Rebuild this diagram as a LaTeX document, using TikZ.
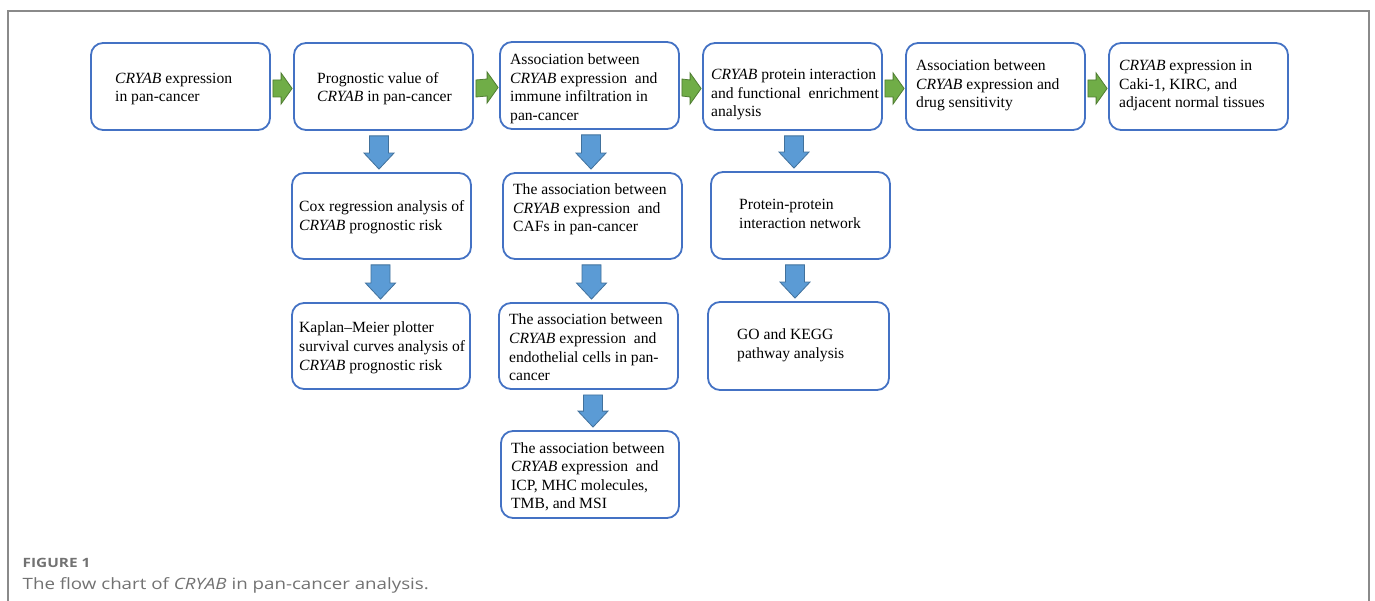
\documentclass[tikz,border=0pt]{standalone}
\usepackage{fontspec}
\setmainfont{Liberation Serif}
\newfontfamily\capfont[FakeStretch=1.2]{Open Sans}
\usetikzlibrary{calc}
\definecolor{boxblue}{HTML}{4472C4}
\definecolor{gfill}{HTML}{70AD47}
\definecolor{gline}{HTML}{507E32}
\definecolor{bfill}{HTML}{5B9BD5}
\definecolor{bline}{HTML}{41719C}
\definecolor{framegray}{HTML}{8A8A8A}
\definecolor{capgray}{HTML}{727272}
\tikzset{
  flowbox/.style={draw=boxblue, line width=1.8pt, rounded corners=12pt, fill=white, inner sep=0pt},
  boxtext/.style={anchor=base west, inner sep=0pt, font=\fontsize{15.6}{18.5}\selectfont},
  garrow/.style={fill=gfill, draw=gline, line width=0.8pt, line join=miter},
  barrow/.style={fill=bfill, draw=bline, line width=0.8pt, line join=miter},
  framestyle/.style={draw=framegray, line width=1.3pt},
  captext/.style={anchor=base west, inner sep=0pt, text=capgray},
}
\newcommand\downarr[3]{%
  \coordinate (S) at ($(#1.south -| #3)+(0,5)$);
  \coordinate (T) at ($(#2.north -| #3)+(0,-3)$);
  \coordinate (H) at ($(T)+(0,-16)$);
  \draw[barrow] ($(S)+(-9.5,0)$) -- ($(H)+(-9.5,0)$) -- ($(H)+(-15,0)$) -- (T)
     -- ($(H)+(15,0)$) -- ($(H)+(9.5,0)$) -- ($(S)+(9.5,0)$) -- cycle;}
\newcommand\rightarr[2]{%
  \coordinate (S) at ($(#1.east)+(2,2)$);
  \coordinate (T) at ($(#2.west)+(-1,2)$);
  \coordinate (H) at ($(T)+(-11,0)$);
  \draw[garrow] ($(S)+(0,-8.5)$) -- ($(H)+(0,-8.5)$) -- ($(H)+(0,-15.5)$) -- (T)
     -- ($(H)+(0,15.5)$) -- ($(H)+(0,8.5)$) -- ($(S)+(0,8.5)$) -- cycle;}
\newcommand\lines[1]{\begin{tabular}[t]{@{}l@{}}#1\end{tabular}}
\begin{document}
\begin{tikzpicture}[x=1pt,y=-1pt]
\useasboundingbox (0,0) rectangle (1375,601);
\fill[white] (0,0) rectangle (1375,601);
% frame
\coordinate (f1) at (8,601);
\coordinate (f2) at (8,11);
\coordinate (f3) at (1369,11);
\coordinate (f4) at (1369,601);
\draw[framestyle] (f1) -- (f2) -- (f3) -- (f4);
% top row boxes
\node[flowbox, minimum width=179pt, minimum height=87pt] (b1) at (180.5,86.5) {};
\node[flowbox, minimum width=179pt, minimum height=87pt] (b2) at (383.5,86.5) {};
\node[flowbox, minimum width=179pt, minimum height=87pt] (b3) at (589.5,85.5) {};
\node[flowbox, minimum width=179pt, minimum height=87pt] (b4) at (792.5,86.5) {};
\node[flowbox, minimum width=179pt, minimum height=87pt] (b5) at (995.5,86.5) {};
\node[flowbox, minimum width=179pt, minimum height=87pt] (b6) at (1198.5,86.5) {};
% lower boxes
\node[flowbox, minimum width=179pt, minimum height=86pt] (c1) at (381.5,216) {};
\node[flowbox, minimum width=178pt, minimum height=86pt] (c2) at (381,346) {};
\node[flowbox, minimum width=179pt, minimum height=86pt] (d1) at (592.5,216) {};
\node[flowbox, minimum width=179pt, minimum height=86pt] (d2) at (588.5,346) {};
\node[flowbox, minimum width=178pt, minimum height=87pt] (d3) at (590,474.5) {};
\node[flowbox, minimum width=179pt, minimum height=87pt] (e1) at (800.5,215.5) {};
\node[flowbox, minimum width=181pt, minimum height=88pt] (e2) at (798.5,346) {};
% texts
\node[boxtext] (t1) at (115,83.5) {\lines{\textit{CRYAB} expression\\in pan-cancer}};
\node[boxtext] (t2) at (317,83.5) {\lines{Prognostic value of\\\textit{CRYAB} in pan-cancer}};
\node[boxtext] (t3) at (510,65) {\lines{Association between\\\textit{CRYAB} expression\ \ and\\immune infiltration in\\pan-cancer}};
\node[boxtext] (t4) at (711,80) {\lines{\textit{CRYAB} protein interaction\\and functional\ \ enrichment\\analysis}};
\node[boxtext] (t5) at (916,71) {\lines{Association between\\\textit{CRYAB} expression and\\drug sensitivity}};
\node[boxtext] (t6) at (1119,71) {\lines{\textit{CRYAB} expression in\\Caki-1, KIRC, and\\adjacent normal tissues}};
\node[boxtext] (tc1) at (299,212) {\lines{Cox regression analysis of\\\textit{CRYAB} prognostic risk}};
\node[boxtext] (tc2) at (299,333) {\lines{Kaplan--Meier plotter\\survival curves analysis of\\\textit{CRYAB} prognostic risk}};
\node[boxtext] (td1) at (513,195) {\lines{The association between\\\textit{CRYAB} expression\ \ and\\CAFs in pan-cancer}};
\node[boxtext] (td2) at (509,325) {\lines{The association between\\\textit{CRYAB} expression\ \ and\\endothelial cells in pan-\\cancer}};
\node[boxtext] (td3) at (511,453) {\lines{The association between\\\textit{CRYAB} expression\ \ and\\ICP, MHC molecules,\\TMB, and MSI}};
\node[boxtext] (te1) at (739,210) {\lines{Protein-protein\\interaction network}};
\node[boxtext] (te2) at (737,340) {\lines{GO and KEGG\\pathway analysis}};
% green arrows
\rightarr{b1}{b2}
\rightarr{b2}{b3}
\rightarr{b3}{b4}
\rightarr{b4}{b5}
\rightarr{b5}{b6}
% blue arrows
\coordinate (a1) at (379,0);
\coordinate (a2) at (380.5,0);
\coordinate (a3) at (591,0);
\coordinate (a4) at (591.5,0);
\coordinate (a5) at (593,0);
\coordinate (a6) at (794,0);
\coordinate (a7) at (795,0);
\downarr{b2}{c1}{a1}
\downarr{c1}{c2}{a2}
\downarr{b3}{d1}{a3}
\downarr{d1}{d2}{a4}
\downarr{d2}{d3}{a5}
\downarr{b4}{e1}{a6}
\downarr{e1}{e2}{a7}
% caption
\node[captext, font=\capfont\bfseries\fontsize{12.8}{15}\selectfont] (fig) at (22.5,567) {FIGURE 1};
\node[captext, font=\capfont\fontsize{15.6}{19}\selectfont] (cap) at (22.5,589) {The flow chart of \textit{CRYAB} in pan-cancer analysis.};
\end{tikzpicture}
\end{document}
